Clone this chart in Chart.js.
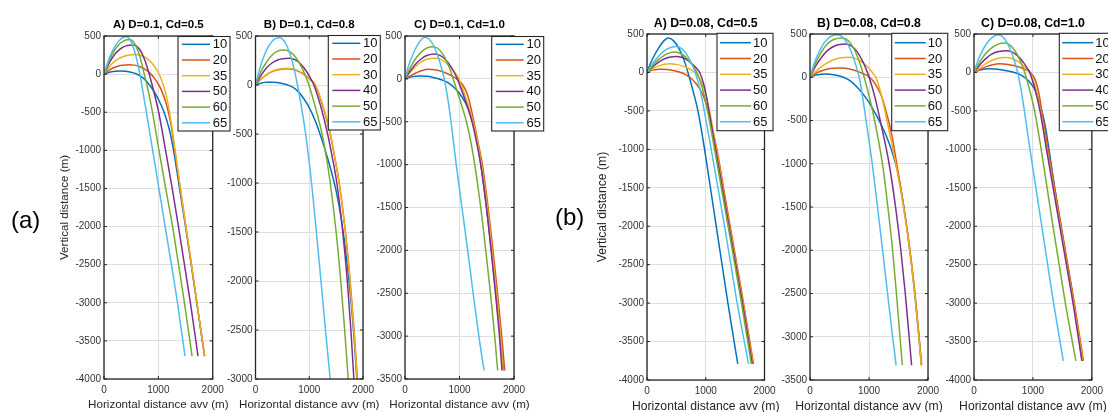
<!DOCTYPE html>
<html><head><meta charset="utf-8">
<script src="https://cdn.jsdelivr.net/npm/chart.js@4.4.0/dist/chart.umd.min.js"></script>
<style>
html,body{margin:0;padding:0;background:#fff;width:1108px;height:412px;overflow:hidden;position:relative}
canvas{position:absolute;left:0;top:0}
.lab{position:absolute;font-family:"Liberation Sans",Arial,Helvetica,sans-serif;font-size:24px;line-height:24px;color:#000;z-index:5}
</style></head><body>
<div class="lab" style="left:11px;top:208px">(a)</div>
<div class="lab" style="left:555px;top:205px">(b)</div>
<script>
// ---------- data ----------
const xTickValues = [0, 1000, 2000];
const yMaxValue = 500;
const titles = ['A) D=0.1, Cd=0.5','B) D=0.1, Cd=0.8','C) D=0.1, Cd=1.0','A) D=0.08, Cd=0.5','B) D=0.08, Cd=0.8','C) D=0.08, Cd=1.0'];
const yMins = [-4000, -3000, -3500, -4000, -3500, -4000];
const xAxisTitle = 'Horizontal distance avv (m)';
const yAxisTitle = 'Vertical distance (m)';

const legendAA = ['10','20','35','50','60','65'];
const legendAB = ['10','20','30','40','50','65'];
const legendAC = ['10','20','35','40','50','65'];
const legendBA = ['10','20','35','50','60','65'];
const legendBB = ['10','20','35','50','60','65'];
const legendBC = ['10','20','30','40','50','65'];

// (a) A) D=0.1, Cd=0.5
const aA10 = [[0,0],[100,25],[200,37],[300,41],[400,37],[500,24],[600,2],[700,-40],[800,-110],[900,-205],[1000,-330],[1100,-490],[1200,-720],[1280,-1000],[1390,-1500],[1500,-2000],[1605,-2500],[1707,-3000],[1850,-3700]];
const aA20 = [[0,0],[100,55],[200,90],[300,112],[400,121],[470,122],[550,118],[650,100],[750,65],[850,10],[950,-75],[1050,-200],[1150,-400],[1230,-650],[1301,-1000],[1403,-1500],[1506,-2000],[1608,-2500],[1709,-3000],[1852,-3700]];
const aA35 = [[0,0],[100,100],[200,170],[300,215],[400,242],[500,254],[580,256],[680,245],[780,210],[880,145],[980,45],[1050,-60],[1120,-210],[1180,-400],[1240,-650],[1300,-960],[1400,-1470],[1503,-1980],[1605,-2480],[1707,-2980],[1850,-3700]];
const aA50 = [[0,0],[100,150],[200,260],[300,330],[400,370],[540,383],[650,330],[750,185],[830,5],[920,-240],[1012,-520],[1133,-1000],[1255,-1500],[1370,-2000],[1480,-2500],[1590,-3000],[1730,-3700]];
const aA60 = [[0,0],[100,185],[200,320],[300,405],[400,448],[470,455],[550,415],[650,255],[700,125],[741,0],[820,-240],[892,-500],[1012,-1000],[1135,-1500],[1262,-2000],[1372,-2500],[1480,-3000],[1620,-3700]];
const aA65 = [[0,0],[50,115],[100,215],[200,365],[300,455],[400,495],[450,477],[500,422],[550,330],[600,202],[660,0],[720,-245],[780,-500],[896,-1000],[1010,-1500],[1125,-2000],[1240,-2500],[1352,-3000],[1490,-3700]];

// (a) B) D=0.1, Cd=0.8
const aB10 = [[0,0],[100,18],[200,27],[300,29],[400,26],[500,16],[600,0],[700,-25],[800,-70],[900,-140],[1000,-230],[1100,-350],[1200,-500],[1300,-670],[1400,-860],[1500,-1080],[1600,-1380],[1700,-1800],[1800,-2350],[1885,-3000],[1900,-3150]];
const aB20 = [[0,0],[100,58],[200,102],[300,134],[400,153],[500,163],[598,165],[700,158],[800,140],[900,108],[1000,64],[1110,0],[1260,-230],[1395,-510],[1485,-770],[1560,-1010],[1676,-1510],[1762,-2010],[1835,-2510],[1896,-3010],[1912,-3160]];
const aB30 = [[0,0],[100,60],[200,105],[300,138],[400,158],[500,168],[598,170],[700,163],[800,144],[900,112],[1000,68],[1116,0],[1260,-220],[1391,-500],[1480,-760],[1555,-1000],[1671,-1500],[1757,-2000],[1830,-2500],[1891,-3000],[1905,-3150]];
const aB40 = [[0,0],[100,95],[200,170],[300,222],[400,253],[500,268],[628,272],[750,253],[850,208],[950,138],[1030,62],[1086,0],[1220,-230],[1342,-500],[1430,-740],[1513,-1000],[1623,-1500],[1708,-2000],[1775,-2500],[1830,-3000],[1845,-3150]];
const aB50 = [[0,0],[100,135],[200,230],[300,300],[400,343],[537,357],[650,335],[750,280],[850,190],[950,65],[994,0],[1120,-240],[1238,-500],[1320,-740],[1391,-1000],[1500,-1500],[1586,-2000],[1659,-2500],[1726,-3000],[1745,-3150]];
const aB65 = [[0,0],[50,110],[100,205],[200,350],[300,440],[380,475],[445,483],[550,436],[650,303],[720,159],[781,0],[860,-240],[933,-500],[1043,-1000],[1133,-1500],[1218,-2000],[1302,-2500],[1390,-3000],[1420,-3170]];

// (a) C) D=0.1, Cd=1.0
const aC10 = [[0,0],[100,22],[200,32],[300,34],[400,30],[500,20],[600,5],[700,-18],[800,-50],[900,-100],[1000,-170],[1100,-270],[1200,-420],[1300,-650],[1380,-950],[1495,-1500],[1585,-2000],[1667,-2500],[1745,-3000],[1812,-3400]];
const aC20 = [[0,0],[100,35],[200,68],[300,95],[427,112],[550,106],[650,91],[750,69],[850,38],[947,0],[1050,-60],[1150,-190],[1265,-500],[1350,-770],[1420,-1000],[1525,-1500],[1615,-2000],[1698,-2500],[1775,-3000],[1830,-3400]];
const aC35 = [[0,0],[100,80],[200,148],[300,198],[400,228],[549,240],[650,227],[750,190],[850,128],[950,42],[990,0],[1125,-240],[1250,-500],[1338,-760],[1405,-1000],[1512,-1500],[1597,-2000],[1678,-2500],[1752,-3000],[1800,-3400]];
const aC40 = [[0,0],[100,95],[200,175],[300,235],[400,272],[549,290],[650,272],[750,221],[850,134],[920,54],[960,0],[1100,-240],[1230,-500],[1320,-760],[1390,-1000],[1495,-1500],[1580,-2000],[1660,-2500],[1733,-3000],[1780,-3400]];
const aC50 = [[0,0],[100,135],[200,240],[300,315],[400,360],[518,376],[600,357],[700,283],[780,183],[840,85],[884,0],[1010,-250],[1128,-500],[1210,-740],[1280,-1000],[1390,-1500],[1482,-2000],[1568,-2500],[1646,-3000],[1700,-3400]];
const aC65 = [[0,0],[50,120],[100,215],[200,360],[300,458],[366,485],[450,458],[550,354],[620,235],[680,103],[720,0],[785,-230],[845,-500],[940,-1000],[1045,-1500],[1150,-2000],[1250,-2500],[1355,-3000],[1450,-3400]];

// (b) A) D=0.08, Cd=0.5
const bA10 = [[0,0],[50,100],[100,185],[200,320],[300,420],[357,447],[450,414],[550,303],[620,180],[660,92],[697,0],[780,-230],[867,-500],[980,-1000],[1080,-1500],[1178,-2000],[1278,-2500],[1377,-3000],[1545,-3790]];
const bA20 = [[0,0],[100,30],[200,42],[244,43],[350,38],[450,25],[550,5],[650,-25],[750,-75],[850,-160],[950,-290],[1040,-500],[1110,-730],[1190,-1000],[1303,-1500],[1416,-2000],[1530,-2500],[1643,-3000],[1813,-3790]];
const bA35 = [[0,0],[100,50],[200,85],[300,106],[385,113],[500,105],[600,85],[700,54],[770,24],[820,0],[900,-80],[980,-230],[1065,-500],[1180,-1000],[1292,-1500],[1405,-2000],[1520,-2500],[1633,-3000],[1802,-3790]];
const bA50 = [[0,0],[100,75],[200,135],[300,178],[400,200],[498,208],[600,194],[700,155],[800,89],[850,47],[898,0],[975,-180],[1055,-500],[1168,-1000],[1282,-1500],[1395,-2000],[1510,-2500],[1625,-3000],[1790,-3790]];
const bA60 = [[0,0],[100,95],[200,170],[300,225],[400,258],[470,265],[550,253],[650,206],[750,121],[800,65],[850,0],[940,-200],[1030,-500],[1150,-1000],[1265,-1500],[1380,-2000],[1495,-2500],[1608,-3000],[1775,-3790]];
const bA65 = [[0,0],[100,120],[200,215],[300,285],[400,325],[498,338],[600,304],[700,205],[760,114],[820,0],[900,-210],[975,-500],[1093,-1000],[1208,-1500],[1320,-2000],[1428,-2500],[1535,-3000],[1728,-3790]];

// (b) B) D=0.08, Cd=0.8
const bB10 = [[0,0],[100,25],[200,35],[270,37],[400,30],[500,15],[600,-10],[700,-50],[800,-115],[900,-195],[1000,-290],[1100,-410],[1200,-540],[1300,-690],[1400,-880],[1480,-1080],[1590,-1500],[1690,-2000],[1775,-2500],[1845,-3000],[1888,-3330]];
const bB20 = [[0,0],[100,45],[200,75],[300,95],[400,105],[496,107],[600,103],[700,90],[800,70],[900,41],[1010,0],[1100,-70],[1200,-200],[1300,-420],[1390,-680],[1470,-1000],[1590,-1500],[1695,-2000],[1780,-2500],[1850,-3000],[1893,-3330]];
const bB35 = [[0,0],[100,68],[200,125],[300,170],[400,203],[500,222],[665,230],[800,209],[900,167],[1000,103],[1070,44],[1115,0],[1200,-180],[1305,-500],[1453,-1000],[1585,-1500],[1690,-2000],[1775,-2500],[1845,-3000],[1885,-3330]];
const bB50 = [[0,0],[100,135],[200,235],[300,310],[400,356],[500,378],[608,384],[700,363],[800,293],[900,174],[960,79],[1003,0],[1100,-230],[1190,-500],[1341,-1000],[1450,-1500],[1540,-2000],[1615,-2500],[1680,-3000],[1722,-3330]];
const bB60 = [[0,0],[100,170],[200,300],[300,390],[400,437],[552,454],[650,421],[750,321],[830,192],[880,89],[918,0],[1010,-240],[1095,-500],[1228,-1000],[1320,-1500],[1400,-2000],[1465,-2500],[1525,-3000],[1565,-3330]];
const bB65 = [[0,0],[50,115],[100,210],[200,355],[300,445],[400,485],[468,492],[550,467],[650,370],[730,240],[790,111],[834,0],[890,-220],[950,-500],[1055,-1000],[1145,-1500],[1230,-2000],[1315,-2500],[1400,-3000],[1460,-3330]];

// (b) C) D=0.08, Cd=1.0
const bC10 = [[0,0],[100,32],[200,45],[270,48],[400,42],[500,30],[600,15],[700,-5],[775,-25],[850,-60],[950,-130],[1050,-250],[1130,-440],[1210,-700],[1262,-950],[1370,-1500],[1475,-2000],[1585,-2500],[1695,-3000],[1835,-3750]];
const bC20 = [[0,0],[100,38],[200,72],[300,97],[438,113],[550,108],[650,94],[750,73],[850,43],[960,0],[1040,-100],[1100,-270],[1150,-500],[1255,-1000],[1368,-1500],[1480,-2000],[1592,-2500],[1703,-3000],[1857,-3750]];
const bC30 = [[0,0],[100,60],[200,115],[300,155],[400,182],[522,195],[650,178],[750,140],[850,80],[900,43],[950,0],[1040,-180],[1130,-500],[1240,-1000],[1352,-1500],[1465,-2000],[1578,-2500],[1690,-3000],[1845,-3750]];
const bC40 = [[0,0],[100,100],[200,180],[300,237],[400,268],[550,282],[650,264],[750,209],[850,118],[900,59],[944,0],[1035,-220],[1120,-500],[1230,-1000],[1342,-1500],[1455,-2000],[1568,-2500],[1680,-3000],[1830,-3750]];
const bC50 = [[0,0],[100,140],[200,245],[300,320],[400,365],[522,382],[600,362],[700,276],[780,159],[820,85],[860,0],[945,-230],[1028,-500],[1140,-1000],[1240,-1500],[1340,-2000],[1445,-2500],[1550,-3000],[1728,-3750]];
const bC65 = [[0,0],[50,120],[100,215],[200,360],[300,450],[410,490],[500,454],[600,328],[660,209],[700,112],[740,0],[800,-230],[855,-500],[950,-1000],[1050,-1500],[1150,-2000],[1250,-2500],[1350,-3000],[1515,-3750]];

// ---------- layout / style ----------
const FONT = '"Liberation Sans", Arial, Helvetica, sans-serif';
const COLORS = ['#0072BD','#D95319','#EDB120','#7E2F8E','#77AC30','#4DBEEE'];
const STYLE_A = {titleY:25, titleSize:11.5, xTitleY:405, axisSize:11.6, yTitleX:65,
  leg:{w:52, h:94.5, first:7.8, row:15.7, l0:4, l1:32, tx:34.7}};
const STYLE_B = {titleY:23.3, titleSize:12.3, xTitleY:406.7, axisSize:12.2, yTitleX:602.7,
  leg:{w:56, h:97.4, first:9.4, row:15.8, l0:3, l1:34, tx:36}};

const PANELS = [
  {idx:0, st:STYLE_A, labels:legendAA, series:[aA10,aA20,aA35,aA50,aA60,aA65], box:{l:104, r:212.7, t:36, b:379}, leg:{x:178, y:36.5}, yTitle:true},
  {idx:1, st:STYLE_A, labels:legendAB, series:[aB10,aB20,aB30,aB40,aB50,aB65], box:{l:255.5, r:363, t:36, b:379}, leg:{x:328.3, y:35.5}},
  {idx:2, st:STYLE_A, labels:legendAC, series:[aC10,aC20,aC35,aC40,aC50,aC65], box:{l:405, r:514, t:36, b:379}, leg:{x:491.7, y:36.5}},
  {idx:3, st:STYLE_B, labels:legendBA, series:[bA10,bA20,bA35,bA50,bA60,bA65], box:{l:647, r:764.5, t:34, b:380}, leg:{x:717, y:33.3}, yTitle:true},
  {idx:4, st:STYLE_B, labels:legendBB, series:[bB10,bB20,bB35,bB50,bB60,bB65], box:{l:810, r:928, t:34, b:380}, leg:{x:891.7, y:33.3}},
  {idx:5, st:STYLE_B, labels:legendBC, series:[bC10,bC20,bC30,bC40,bC50,bC65], box:{l:974, r:1093, t:34, b:380}, leg:{x:1059.3, y:33.3}}
];

const W = 1108, H = 412, YW = 40, XH = 30;

function decoPlugin(p) {
  return {
    id: 'deco' + p.idx,
    afterDraw(chart) {
      const ctx = chart.ctx, a = chart.chartArea, xs = chart.scales.x, ys = chart.scales.y, st = p.st;
      ctx.save();
      ctx.strokeStyle = '#262626'; ctx.lineWidth = 1;
      ctx.beginPath();
      xs.ticks.forEach(t => { const px = xs.getPixelForValue(t.value);
        ctx.moveTo(px, a.bottom); ctx.lineTo(px, a.bottom - 3);
        ctx.moveTo(px, a.top); ctx.lineTo(px, a.top + 3); });
      ys.ticks.forEach(t => { const py = ys.getPixelForValue(t.value);
        ctx.moveTo(a.left, py); ctx.lineTo(a.left + 3, py);
        ctx.moveTo(a.right, py); ctx.lineTo(a.right - 3, py); });
      ctx.stroke();
      ctx.lineWidth = 1.3;
      ctx.strokeRect(a.left, a.top, a.right - a.left, a.bottom - a.top);
      // title
      ctx.textAlign = 'center'; ctx.textBaseline = 'middle';
      ctx.fillStyle = '#000';
      ctx.font = 'bold ' + st.titleSize + 'px ' + FONT;
      ctx.fillText(titles[p.idx], (a.left + a.right) / 2, st.titleY);
      // axis titles
      ctx.fillStyle = '#262626';
      ctx.font = st.axisSize + 'px ' + FONT;
      ctx.fillText(xAxisTitle, (a.left + a.right) / 2, st.xTitleY);
      if (p.yTitle) {
        ctx.save();
        ctx.translate(st.yTitleX, (a.top + a.bottom) / 2);
        ctx.rotate(-Math.PI / 2);
        ctx.fillText(yAxisTitle, 0, 0);
        ctx.restore();
      }
      // legend
      const L = st.leg, lx = p.leg.x, ly = p.leg.y;
      ctx.fillStyle = '#fff';
      ctx.fillRect(lx, ly, L.w, L.h);
      ctx.strokeStyle = '#262626'; ctx.lineWidth = 1.1;
      ctx.strokeRect(lx, ly, L.w, L.h);
      ctx.textAlign = 'left'; ctx.font = '13px ' + FONT;
      chart.data.datasets.forEach((ds, i) => {
        const cy = ly + L.first + L.row * i;
        ctx.strokeStyle = ds.borderColor; ctx.lineWidth = 1.5;
        ctx.beginPath(); ctx.moveTo(lx + L.l0, cy); ctx.lineTo(lx + L.l1, cy); ctx.stroke();
        ctx.fillStyle = '#111';
        ctx.fillText(ds.label, lx + L.tx, cy + 0.5);
      });
      ctx.restore();
    }
  };
}

function makePanel(p) {
  const canvas = document.createElement('canvas');
  canvas.width = W; canvas.height = H;
  canvas.style.width = W + 'px'; canvas.style.height = H + 'px';
  document.body.appendChild(canvas);
  const n = p.series.length;
  const datasets = p.series.map((pts, i) => ({
    label: p.labels[i],
    data: pts.map(q => ({x: q[0], y: q[1]})),
    borderColor: COLORS[i], backgroundColor: COLORS[i],
    borderWidth: 1.5, pointRadius: 0, pointHoverRadius: 0, fill: false,
    cubicInterpolationMode: 'monotone', order: n - i
  }));
  const tickFont = {size: 10, family: FONT};
  new Chart(canvas, {
    type: 'line',
    data: {datasets},
    options: {
      responsive: false, animation: false, devicePixelRatio: 1, events: [],
      layout: {padding: {left: p.box.l - YW, right: W - p.box.r, top: p.box.t, bottom: H - p.box.b - XH}},
      plugins: {legend: {display: false}, title: {display: false}, tooltip: {enabled: false}},
      scales: {
        x: {type: 'linear', min: xTickValues[0], max: xTickValues[xTickValues.length - 1],
          afterFit: s => { s.height = XH; },
          afterBuildTicks: s => { s.ticks = xTickValues.map(v => ({value: v})); },
          ticks: {autoSkip: false, maxRotation: 0, padding: 5, color: '#333', font: tickFont, callback: v => String(v)},
          grid: {color: '#dedede', lineWidth: 1, drawTicks: false}, border: {display: false}},
        y: {type: 'linear', min: yMins[p.idx], max: yMaxValue,
          afterFit: s => { s.width = YW; },
          ticks: {stepSize: 500, autoSkip: false, padding: 3, color: '#333', font: tickFont, callback: v => String(v)},
          grid: {color: '#dedede', lineWidth: 1, drawTicks: false}, border: {display: false}}
      }
    },
    plugins: [decoPlugin(p)]
  });
}

PANELS.forEach(makePanel);
</script>
</body></html>
